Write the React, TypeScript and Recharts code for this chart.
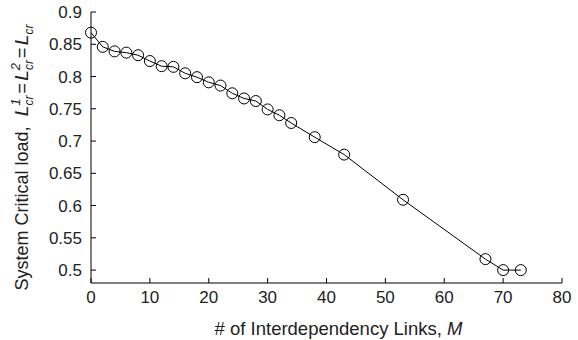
import React from "react";
import { LineChart, Line, XAxis, YAxis, Label } from "recharts";

// number of interdependency links M
const linksM = [0, 2, 4, 6, 8, 10, 12, 14, 16, 18, 20, 22, 24, 26, 28, 30, 32, 34, 38, 43, 53, 67, 70, 73];
// system critical load L_cr
const criticalLoad = [
  0.868, 0.846, 0.839, 0.837, 0.833, 0.824, 0.816, 0.815, 0.805, 0.799, 0.791, 0.786,
  0.774, 0.766, 0.762, 0.749, 0.74, 0.728, 0.706, 0.679, 0.609, 0.517, 0.5, 0.5,
];
const xTicks = [0, 10, 20, 30, 40, 50, 60, 70, 80];
const yTicks = [0.5, 0.55, 0.6, 0.65, 0.7, 0.75, 0.8, 0.85, 0.9];

const data = linksM.map((m, i) => ({ m, load: criticalLoad[i] }));

const FONT = "'Liberation Sans', Arial, Helvetica, sans-serif";
const tickStyle = { fill: "#222", fontSize: 17, fontFamily: FONT };

const XTitle = ({ viewBox }: any) => {
  const cx = viewBox.x + viewBox.width / 2 + 12;
  return (
    <text x={cx} y={335} textAnchor="middle" fontSize={18.5} fontFamily={FONT} fill="#222">
      # of Interdependency Links, <tspan fontStyle="italic">M</tspan>
    </text>
  );
};

// L with superscript / subscript pieces of the y title
const LSym = ({ sup }: { sup?: string }) => (
  <>
    <tspan fontStyle="italic" fontSize={19}>L</tspan>
    {sup ? (
      <>
        <tspan fontStyle="italic" fontSize={13} dy={-8}>{sup}</tspan>
        <tspan fontStyle="italic" fontSize={12} dx={-7} dy={13}>cr</tspan>
      </>
    ) : (
      <tspan fontStyle="italic" fontSize={12} dy={5}>cr</tspan>
    )}
  </>
);

const YTitle = ({ viewBox }: any) => {
  const cy = viewBox.y + viewBox.height / 2 + 10;
  return (
    <text
      transform={`rotate(-90)`}
      x={-cy}
      y={28}
      textAnchor="middle"
      fontSize={18}
      fontFamily={FONT}
      fill="#222"
    >
      System Critical load,{"\u00a0 "}
      <LSym sup="1" />
      <tspan dx={2} dy={-5}>=</tspan>
      <tspan dx={2} fontSize={1}>{"\u00a0"}</tspan>
      <LSym sup="2" />
      <tspan dx={2} dy={-5}>=</tspan>
      <tspan dx={2} fontSize={1}>{"\u00a0"}</tspan>
      <LSym />
    </text>
  );
};

const NoTick = () => <g />;

export default function App() {
  return (
    <div style={{ position: "absolute", left: 0, top: 0, background: "#fff" }}>
      <LineChart width={578} height={340} data={data} margin={{ top: 12, right: 16, bottom: 0, left: 0 }}>
        <XAxis
          dataKey="m"
          type="number"
          domain={[0, 80]}
          ticks={xTicks}
          height={57}
          stroke="#000"
          tickSize={-5}
          tickMargin={13}
          tick={tickStyle}
          interval={0}
        >
          <Label content={<XTitle />} />
        </XAxis>
        <XAxis
          xAxisId="top"
          orientation="top"
          type="number"
          domain={[0, 80]}
          ticks={xTicks}
          height={0}
          stroke="#000"
          tickSize={-5}
          tick={<NoTick />}
          interval={0}
        />
        <YAxis
          type="number"
          domain={[0.48, 0.9]}
          ticks={yTicks}
          width={91}
          stroke="#000"
          tickSize={-5}
          tickMargin={14}
          tick={tickStyle}
          interval={0}
        >
          <Label content={<YTitle />} />
        </YAxis>
        <YAxis
          yAxisId="right"
          orientation="right"
          type="number"
          domain={[0.48, 0.9]}
          ticks={yTicks}
          width={0}
          stroke="#000"
          tickSize={-5}
          tick={<NoTick />}
          interval={0}
        />
        <Line
          dataKey="load"
          stroke="#000"
          strokeWidth={1}
          dot={{ r: 5.5, stroke: "#000", strokeWidth: 1, fill: "none" }}
          isAnimationActive={false}
        />
      </LineChart>
    </div>
  );
}
